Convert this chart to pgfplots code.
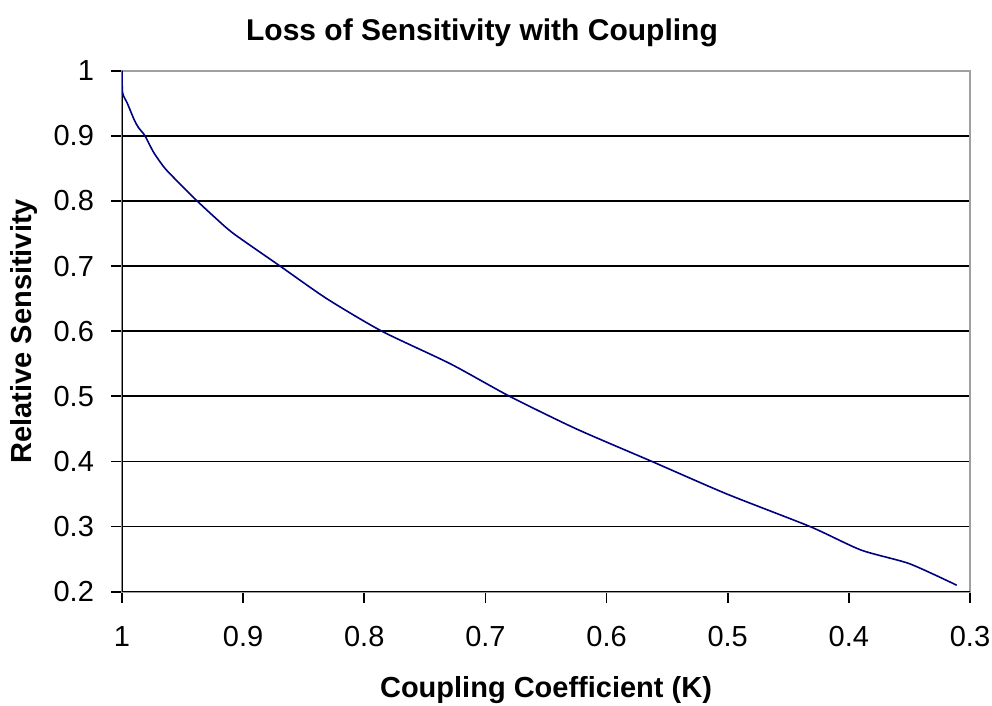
\documentclass[border=0pt]{standalone}
\usepackage{fontspec}
\setmainfont{Liberation Sans}
\usepackage{pgfplots}
\pgfplotsset{compat=1.18}
\definecolor{curve}{RGB}{0,0,128}
\definecolor{frame}{RGB}{160,160,160}
\begin{document}
\begin{tikzpicture}
\begin{axis}[
    scale only axis,
    width=424pt, height=260.5pt,
    x dir=reverse,
    xmin=0.3, xmax=1, ymin=0.2, ymax=1,
    xtick={1,0.9,0.8,0.7,0.6,0.5,0.4,0.3},
    xticklabels={1,0.9,0.8,0.7,0.6,0.5,0.4,0.3},
    ytick={0.2,0.3,0.4,0.5,0.6,0.7,0.8,0.9,1},
    yticklabels={0.2,0.3,0.4,0.5,0.6,0.7,0.8,0.9,1},
    xtick pos=bottom, ytick pos=left,
    tick align=outside,
    major tick length=5.5pt,
    tick style={black, line width=0.9pt},
    ymajorgrids,
    major grid style={black, line width=0.9pt},
    axis line style={frame, line width=0.9pt},
    ticklabel style={font=\fontsize{14.5}{17}\selectfont},
    xticklabel style={anchor=center, yshift=-17pt},
    yticklabel style={anchor=east, xshift=-5pt},
    xlabel={\bfseries Coupling Coefficient (K)},
    ylabel={\bfseries Relative Sensitivity},
    title={\bfseries Loss of Sensitivity with Coupling},
    label style={font=\fontsize{14.5}{17}\selectfont},
    xlabel style={at={(axis description cs:0.5,0)}, anchor=center, yshift=-49pt},
    ylabel style={at={(axis description cs:0,0.5)}, anchor=center, yshift=49pt},
    title style={font=\fontsize{15}{18}\selectfont, at={(axis description cs:0.4245,1)}, anchor=center, yshift=12.8pt},
]
\draw[black, line width=0.9pt] (axis description cs:0,1) -- (axis description cs:0,0) -- (axis description cs:1,0);
\addplot[curve, line width=0.8pt, smooth, tension=0.4] coordinates {
    (1,1) (0.9995,0.966) (0.9956,0.95) (0.990,0.925) (0.9865,0.913) (0.981,0.9)
    (0.974,0.875) (0.9645,0.85) (0.9515,0.825) (0.938,0.8) (0.9235,0.775)
    (0.908,0.75) (0.8695,0.7) (0.831,0.65)
    (0.7855,0.6) (0.729,0.55) (0.680,0.5) (0.625,0.45) (0.5626,0.4)
    (0.5007,0.35) (0.432,0.3) (0.39,0.264) (0.35,0.243) (0.311,0.21)
};
\end{axis}
\pgfresetboundingbox
\path[use as bounding box] (-61pt,-57.15pt) rectangle (435pt,295.85pt);
\end{tikzpicture}
\end{document}
